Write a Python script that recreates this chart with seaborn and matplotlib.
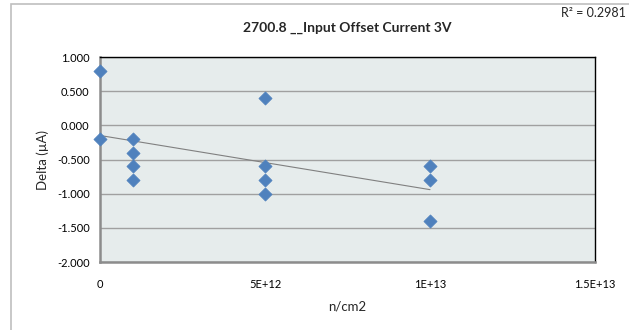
import numpy as np
import pandas as pd
import seaborn as sns
import matplotlib.pyplot as plt
from matplotlib.patches import Rectangle
from matplotlib.ticker import FuncFormatter

# Data
fluence = [0, 0, 1e12, 1e12, 1e12, 1e12, 5e12, 5e12, 5e12, 5e12, 1e13, 1e13, 1e13]
delta = [0.8, -0.2, -0.2, -0.4, -0.6, -0.8, 0.4, -0.6, -0.8, -1.0, -0.6, -0.8, -1.4]
x_ticks = [0, 5e12, 1e13, 1.5e13]
x_tick_labels = ["0", "5E+12", "1E+13", "1.5E+13"]
y_ticks = [-2.0, -1.5, -1.0, -0.5, 0.0, 0.5, 1.0]
r2_text = "R² = 0.2981"

df = pd.DataFrame({"fluence": fluence, "delta": delta})

sns.set_style("white")
plt.rcParams["font.family"] = ["Lato", "DejaVu Sans"]

fig = plt.figure(figsize=(6.29, 3.30), dpi=100)
ax = fig.add_axes([0.159, 0.206, 0.787, 0.621])

# outer chart border
fig.patches.append(Rectangle((11 / 629, -0.05), 1.2, 1 - 4 / 330 + 0.05,
                             transform=fig.transFigure, fill=False,
                             edgecolor="#BFBFBF", linewidth=1.2))

ax.set_facecolor("#E6ECEC")
ax.set_xlim(0, 1.5e13)
ax.set_ylim(-2.0, 1.0)
ax.set_yticks(y_ticks)
ax.yaxis.set_major_formatter(FuncFormatter(lambda v, p: f"{v:.3f}"))
ax.set_xticks(x_ticks)
ax.set_xticklabels(x_tick_labels)
ax.grid(axis="y", color="#A0A0A0", linewidth=1.0)
ax.set_axisbelow(True)

# linear trend line over the data range
slope, intercept = np.polyfit(df["fluence"], df["delta"], 1)
xs = np.array([0, max(fluence)])
ax.plot(xs, slope * xs + intercept, color="#808080", linewidth=0.8, zorder=2)

sns.scatterplot(data=df, x="fluence", y="delta", marker="D", s=45,
                color="#4F81BD", edgecolor="#4F81BD", linewidth=0.5,
                ax=ax, zorder=3, clip_on=False)

for side in ["left", "bottom"]:
    ax.spines[side].set_color("#8C8C8C")
    ax.spines[side].set_linewidth(1.8)
for side in ["top", "right"]:
    ax.spines[side].set_color("#000000")
    ax.spines[side].set_linewidth(1.0)

ax.tick_params(axis="both", which="major", labelsize=8, length=4,
               color="#8C8C8C", direction="out", labelcolor="black")
ax.tick_params(axis="x", pad=8)

ax.set_xlabel("n/cm2", fontsize=9.5, labelpad=8)
ax.set_ylabel("Delta (µA)", fontsize=9.5, labelpad=6)
ax.set_title("2700.8 __Input Offset Current 3V", fontsize=10,
             fontweight="bold", pad=18)
fig.text(0.995, 0.96, r2_text, ha="right", va="center", fontsize=9)

fig.savefig("out.png", dpi=100)
